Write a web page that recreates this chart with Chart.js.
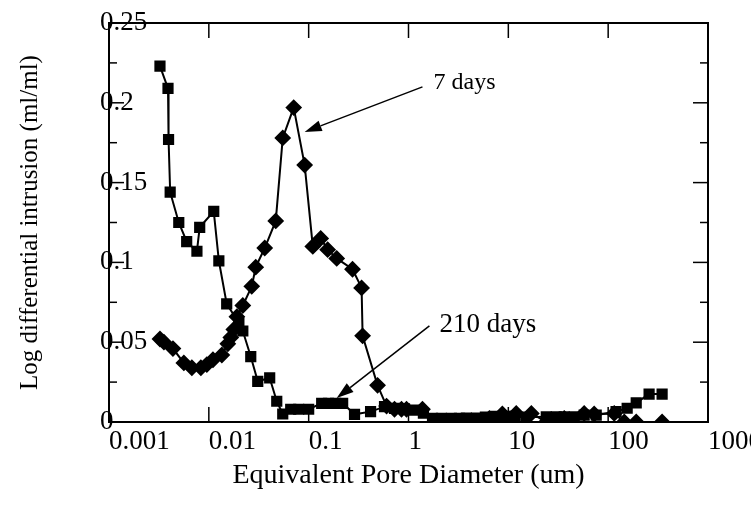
<!DOCTYPE html>
<html>
<head>
<meta charset="utf-8">
<script src="https://cdn.jsdelivr.net/npm/chart.js@4/dist/chart.umd.min.js"></script>
<style>
html, body { margin: 0; padding: 0; background: #fff; }
</style>
</head>
<body>
<canvas id="myChart" width="751" height="505"></canvas>
<script>
// 210 days (squares)
const diam210 = [0.00324, 0.0039, 0.00395, 0.0041, 0.0050, 0.0060, 0.0076, 0.0081, 0.0112, 0.0126, 0.0151, 0.0200, 0.0219, 0.0263, 0.0309, 0.0407, 0.0479, 0.0550, 0.0661, 0.0794, 0.100, 0.135, 0.158, 0.186, 0.219, 0.288, 0.417, 0.575, 0.724, 0.912, 1.15, 1.41, 1.74, 2.14, 2.69, 3.24, 3.80, 4.79, 5.89, 7.41, 9.33, 11.7, 15.1, 24.0, 30.2, 36.3, 45.7, 57.5, 75.9, 120, 155, 191, 257, 347];
const intr210 = [0.223, 0.209, 0.177, 0.144, 0.125, 0.113, 0.107, 0.122, 0.132, 0.101, 0.074, 0.062, 0.057, 0.041, 0.0255, 0.0276, 0.013, 0.005, 0.008, 0.008, 0.008, 0.0117, 0.0117, 0.0117, 0.0117, 0.0048, 0.0065, 0.0096, 0.0085, 0.0082, 0.0075, 0.0055, 0.0023, 0.0023, 0.0023, 0.0023, 0.0025, 0.0025, 0.003, 0.0035, 0.0035, 0.0035, 0.003, 0.0033, 0.0033, 0.0033, 0.0033, 0.0043, 0.0043, 0.0065, 0.0086, 0.012, 0.0175, 0.0175];

// 7 days (diamonds)
const diam7 = [0.00324, 0.00355, 0.00437, 0.00562, 0.00676, 0.00832, 0.00955, 0.0110, 0.0135, 0.0155, 0.0166, 0.0178, 0.0191, 0.0219, 0.0269, 0.0295, 0.0363, 0.0468, 0.0550, 0.0708, 0.0912, 0.110, 0.132, 0.155, 0.191, 0.275, 0.339, 0.347, 0.490, 0.603, 0.724, 0.851, 0.955, 1.38, 1.91, 2.57, 4.27, 5.37, 6.46, 8.71, 12.0, 17.0, 24.0, 36.3, 57.5, 72.4, 115, 145, 191, 347];
const intr7 = [0.052, 0.050, 0.046, 0.037, 0.034, 0.034, 0.036, 0.039, 0.042, 0.049, 0.053, 0.058, 0.066, 0.073, 0.085, 0.097, 0.109, 0.126, 0.178, 0.197, 0.161, 0.110, 0.115, 0.108, 0.1025, 0.0957, 0.084, 0.054, 0.023, 0.010, 0.008, 0.008, 0.008, 0.008, 0.0003, 0, 0.0005, 0.001, 0.0023, 0.005, 0.0054, 0.0054, 0, 0.0023, 0.0054, 0.005, 0.0054, 0, 0, 0];

const xTicks = [0.001, 0.01, 0.1, 1, 10, 100, 1000];
const xLabels = ['0.001', '0.01', '0.1', '1', '10', '100', '1000'];
const yTicks = [0, 0.05, 0.1, 0.15, 0.2, 0.25];
const yLabels = ['0', '0.05', '0.1', '0.15', '0.2', '0.25'];
const yMinor = [0.025, 0.075, 0.125, 0.175, 0.225];

// callouts, in data units
const noteText = ['7 days', '210 days'];
const noteSize = [24, 27];
const noteAt = [[1.78, 0.2124], [2.04, 0.0608]];
const noteFrom = [[1.38, 0.210], [1.62, 0.0602]];
const noteTo = [[0.0912, 0.1817], [0.191, 0.015]];

const serif = "'Liberation Serif', 'Times New Roman', serif";
Chart.defaults.font.family = serif;
Chart.defaults.color = '#000';

function pts(xs, ys) {
	return xs.map(function(x, i) { return {x: x, y: ys[i]}; });
}

const frame = {
	id: 'frame',
	afterDraw: function(chart) {
		var a = chart.chartArea, ctx = chart.ctx;
		var xs = chart.scales.x, ys = chart.scales.y;
		ctx.save();
		ctx.strokeStyle = '#000';
		ctx.lineWidth = 1.5;
		function seg(x1, y1, x2, y2) {
			ctx.beginPath(); ctx.moveTo(x1, y1); ctx.lineTo(x2, y2); ctx.stroke();
		}
		xTicks.slice(1, -1).forEach(function(v) {
			var px = xs.getPixelForValue(v);
			seg(px, a.bottom, px, a.bottom - 15);
			seg(px, a.top, px, a.top + 15);
		});
		yTicks.slice(1, -1).forEach(function(v) {
			var py = ys.getPixelForValue(v);
			seg(a.left, py, a.left + 15, py);
			seg(a.right, py, a.right - 15, py);
		});
		yMinor.forEach(function(v) {
			var py = ys.getPixelForValue(v);
			seg(a.left, py, a.left + 8, py);
			seg(a.right, py, a.right - 8, py);
		});
		ctx.lineWidth = 2;
		ctx.strokeRect(a.left, a.top, a.right - a.left, a.bottom - a.top);
		ctx.restore();
	}
};

const notes = {
	id: 'notes',
	afterDatasetsDraw: function(chart) {
		var ctx = chart.ctx, xs = chart.scales.x, ys = chart.scales.y;
		ctx.save();
		ctx.fillStyle = '#000';
		ctx.strokeStyle = '#000';
		ctx.lineWidth = 1.5;
		ctx.textAlign = 'left';
		ctx.textBaseline = 'middle';
		for (var i = 0; i < noteText.length; i++) {
			var x1 = xs.getPixelForValue(noteFrom[i][0]), y1 = ys.getPixelForValue(noteFrom[i][1]);
			var x2 = xs.getPixelForValue(noteTo[i][0]), y2 = ys.getPixelForValue(noteTo[i][1]);
			var ang = Math.atan2(y2 - y1, x2 - x1);
			var len = 17, half = 5.5;
			var bx = x2 - len * Math.cos(ang), by = y2 - len * Math.sin(ang);
			ctx.beginPath(); ctx.moveTo(x1, y1); ctx.lineTo(bx, by); ctx.stroke();
			ctx.beginPath();
			ctx.moveTo(x2, y2);
			ctx.lineTo(bx + half * Math.sin(ang), by - half * Math.cos(ang));
			ctx.lineTo(bx - half * Math.sin(ang), by + half * Math.cos(ang));
			ctx.closePath();
			ctx.fill();
			ctx.font = noteSize[i] + 'px ' + serif;
			ctx.fillText(noteText[i], xs.getPixelForValue(noteAt[i][0]), ys.getPixelForValue(noteAt[i][1]));
		}
		ctx.restore();
	}
};

var ctx = document.getElementById('myChart');
var myChart = new Chart(ctx, {
	type: 'line',
	data: {
		datasets: [{
			label: '210 days',
			data: pts(diam210, intr210),
			borderColor: '#000',
			backgroundColor: '#000',
			borderWidth: 2,
			pointStyle: 'rect',
			pointRadius: 6.5,
			tension: 0
		}, {
			label: '7 days',
			data: pts(diam7, intr7),
			borderColor: '#000',
			backgroundColor: '#000',
			borderWidth: 2,
			pointStyle: 'rectRot',
			pointRadius: 7,
			tension: 0
		}]
	},
	options: {
		responsive: false,
		animation: false,
		layout: { padding: { top: 23, right: 43, left: 0, bottom: 0 } },
		plugins: { legend: { display: false }, tooltip: { enabled: false } },
		scales: {
			x: {
				type: 'logarithmic',
				min: 0.001,
				max: 1000,
				afterBuildTicks: function(s) { s.ticks = xTicks.map(function(v) { return {value: v}; }); },
				afterFit: function(s) { s.height = 83; s.paddingLeft = 0; s.paddingRight = 0; },
				grid: { display: false, drawTicks: false },
				border: { display: false },
				ticks: {
					align: 'start',
					padding: 4,
					maxRotation: 0,
					autoSkip: false,
					font: { size: 27 },
					callback: function(v, i) { return xLabels[i]; }
				},
				title: {
					display: true,
					text: 'Equivalent Pore Diameter (um)',
					font: { size: 28 },
					padding: { top: 0, bottom: 13 }
				}
			},
			y: {
				min: 0,
				max: 0.25,
				afterBuildTicks: function(s) { s.ticks = yTicks.map(function(v) { return {value: v}; }); },
				afterFit: function(s) { s.width = 109; s.paddingTop = 0; s.paddingBottom = 0; },
				grid: { display: false, drawTicks: false },
				border: { display: false },
				ticks: {
					mirror: true,
					padding: -9,
					font: { size: 27 },
					callback: function(v, i) { return yLabels[i]; }
				},
				title: {
					display: true,
					text: 'Log differential intrusion (ml/ml)',
					font: { size: 25 },
					padding: { top: 15, bottom: 0 }
				}
			}
		}
	},
	plugins: [frame, notes]
});
</script>
</body>
</html>
